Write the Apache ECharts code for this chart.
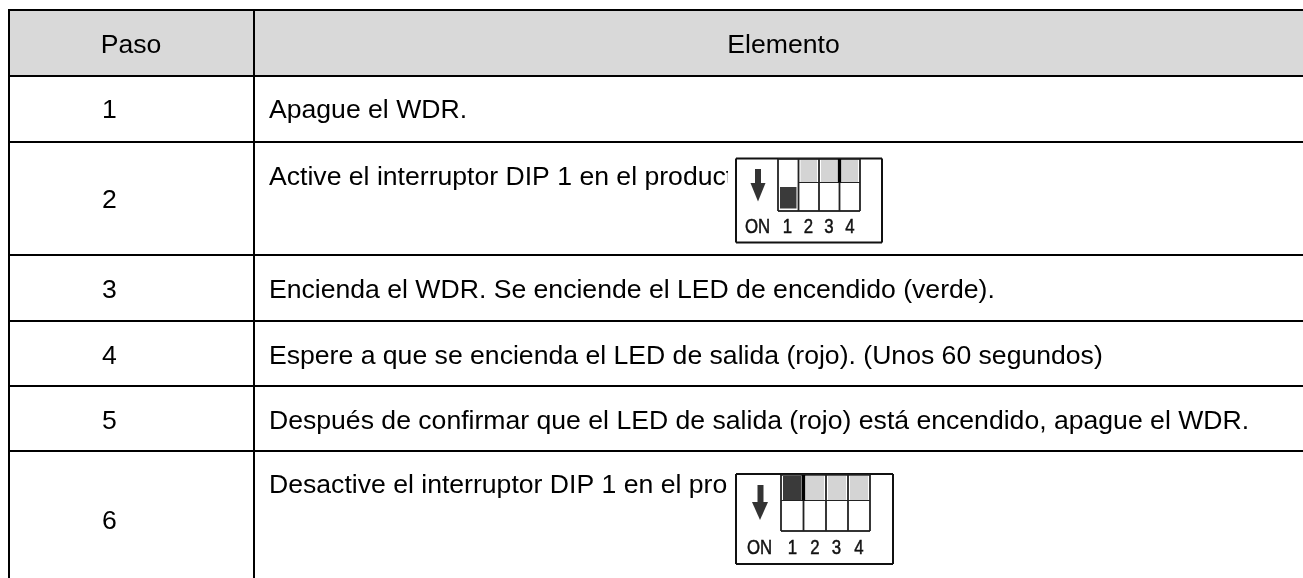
<!DOCTYPE html>
<html>
<head>
<meta charset="utf-8">
<style>html,body{margin:0;padding:0;background:#fff;}#main{width:1303px;height:578px;}</style>
<script src="https://cdn.jsdelivr.net/npm/echarts@6/dist/echarts.min.js"></script>
</head>
<body>
<div id="main"></div>
<script>
// ---- table content ----
const headers = ['Paso', 'Elemento'];
const steps = ['1', '2', '3', '4', '5', '6'];
const items = [
  'Apague el WDR.',
  'Active el interruptor DIP 1 en el product',
  'Encienda el WDR. Se enciende el LED de encendido (verde).',
  'Espere a que se encienda el LED de salida (rojo). (Unos 60 segundos)',
  'Después de confirmar que el LED de salida (rojo) está encendido, apague el WDR.',
  'Desactive el interruptor DIP 1 en el prod'
];
const dipLabels = ['1', '2', '3', '4'];
const dipOn = [[true, false, false, false], [false, false, false, false]];
const dipRows = [1, 5];

// ---- layout (axis units = px) ----
const rowLines = [10, 76, 142, 255, 321, 386, 451];
const colLines = [9, 254];
const stepBase = [118, 208, 298, 364, 429, 529];
const itemBase = [118, 185, 298, 364, 429, 493];
const headerBase = 53;
const headerX = [131, 783.5];
const stepX = 109.5;
const itemX = 269;
const dipBoxes = [
  { cut: 728, coverTop: 150, l: 736, r: 882, t: 158.5, b: 242.5, cols: [778, 798.5, 819, 839.5, 860], top: 159, mid: 182.5, bot: 211, labelY: 227, on: 757.5, lx: [787.5, 808.5, 829, 850], thickCol: 3,
    shaft: [755, 761, 169, 183], head: [750.5, 765.5, 183, 201.5] },
  { cut: 728, coverTop: 460, l: 736, r: 893, t: 474, b: 564, cols: [781, 803.5, 826, 848, 870], top: 475, mid: 500.5, bot: 531, labelY: 548, on: 759.5, lx: [792.5, 815, 836.5, 859], thickCol: 1,
    shaft: [757.5, 763.5, 485, 502], head: [752, 768, 502, 520] }
];

const FONT = '"Liberation Sans", Arial, sans-serif';
const FS = 26.6;

function txt(api, s, x, base, align){
  const p = api.coord([x, base]);
  return { type:'text', style:{ x:p[0], y:p[1]-7, text:s, fill:'#000', font:FS+'px '+FONT, align:align, verticalAlign:'middle' } };
}
function seg(api, x1, y1, x2, y2, w, color){
  const a = api.coord([x1, y1]), b = api.coord([x2, y2]);
  return { type:'line', shape:{ x1:a[0], y1:a[1], x2:b[0], y2:b[1] }, style:{ stroke:color||'#000', lineWidth:w } };
}
function box(api, x1, y1, x2, y2, fill){
  const a = api.coord([x1, y1]), b = api.coord([x2, y2]);
  return { type:'rect', shape:{ x:a[0], y:a[1], width:b[0]-a[0], height:b[1]-a[1] }, style:{ fill:fill } };
}

// ---- frame: header band, grid lines, header text ----
function renderFrame(params, api){
  const ch = [box(api, colLines[0], rowLines[0], 1303, rowLines[1], '#d9d9d9')];
  rowLines.forEach(y => ch.push(seg(api, colLines[0]-1, y, 1303, y, 2)));
  colLines.forEach(x => ch.push(seg(api, x, rowLines[0], x, 578, 2)));
  headers.forEach((h, i) => ch.push(txt(api, h, headerX[i], headerBase, 'center')));
  return { type:'group', children:ch };
}

// ---- one table row ----
function renderRow(params, api){
  const i = api.value(0);
  return { type:'group', children:[
    txt(api, steps[i], stepX, stepBase[i], 'center'),
    txt(api, items[i], itemX, itemBase[i], 'left')
  ]};
}

// ---- DIP switch picture ----
function renderDip(params, api){
  const n = api.value(0), d = dipBoxes[n], on = dipOn[n];
  const ch = [box(api, d.cut, d.coverTop, d.r, d.b, '#fff')];
  on.forEach((v, k) => {
    const x1 = d.cols[k]+2, x2 = d.cols[k+1]-2;
    const knob = k === 0 ? '#3a3a3a' : '#d4d4d4';
    if(v) ch.push(box(api, x1, d.mid+4.5, x2, d.bot-2.5, knob));
    else ch.push(box(api, x1, d.top+1, x2, d.mid, knob));
  });
  // outer frame
  ch.push(seg(api, d.l, d.t, d.r, d.t, 2, '#111'), seg(api, d.l, d.b, d.r, d.b, 2, '#111'));
  ch.push(seg(api, d.l, d.t, d.l, d.b, 2, '#111'), seg(api, d.r, d.t, d.r, d.b, 2, '#111'));
  // switch block
  ch.push(seg(api, d.cols[0], d.bot, d.cols[4], d.bot, 2, '#333'));
  ch.push(seg(api, d.cols[0], d.top, d.cols[4], d.top, 1.5, '#222'));
  d.cols.forEach(x => ch.push(seg(api, x, d.top, x, d.bot, 1.8, '#222')));
  ch.push(seg(api, on[0] ? d.cols[1] : d.cols[0], d.mid, d.cols[4], d.mid, 1.2, '#222'));
  // thicker divider next to a knob
  const tx = d.cols[d.thickCol];
  ch.push(seg(api, tx, d.top, tx, d.mid, 3.4, '#000'));
  // arrow
  ch.push(box(api, d.shaft[0], d.shaft[2], d.shaft[1], d.shaft[3], '#333'));
  const h1 = api.coord([d.head[0], d.head[2]]), h2 = api.coord([d.head[1], d.head[2]]), h3 = api.coord([(d.head[0]+d.head[1])/2, d.head[3]]);
  ch.push({ type:'polygon', shape:{ points:[h1, h2, h3] }, style:{ fill:'#333' } });
  // labels, squeezed like the scanned picture
  const lab = (s, x) => {
    const p = api.coord([x, d.labelY]);
    return { type:'text', x:p[0], y:p[1], scaleX:0.8, style:{ x:0, y:0, text:s, fill:'#111', stroke:'#111', lineWidth:0.5, font:'21px '+FONT, align:'center', verticalAlign:'middle' } };
  };
  ch.push(lab('ON', d.on));
  dipLabels.forEach((s, k) => ch.push(lab(s, d.lx[k])));
  return { type:'group', children:ch };
}

const chart = echarts.init(document.getElementById('main'), null, { renderer:'canvas' });
chart.setOption({
  animation:false,
  backgroundColor:'#fff',
  grid:{ left:0, right:0, top:0, bottom:0 },
  xAxis:{ type:'value', min:0, max:1303, show:false },
  yAxis:{ type:'value', min:0, max:578, inverse:true, show:false },
  series:[
    { type:'custom', clip:false, coordinateSystem:'cartesian2d', renderItem:renderFrame, data:[[0]], encode:{ x:0 }, z:1 },
    { type:'custom', clip:false, coordinateSystem:'cartesian2d', renderItem:renderRow, data:steps.map((s, i) => [i]), encode:{ x:0 }, z:2 },
    { type:'custom', clip:false, coordinateSystem:'cartesian2d', renderItem:renderDip, data:dipRows.map((r, i) => [i]), encode:{ x:0 }, z:3 }
  ]
});
</script>
</body>
</html>
